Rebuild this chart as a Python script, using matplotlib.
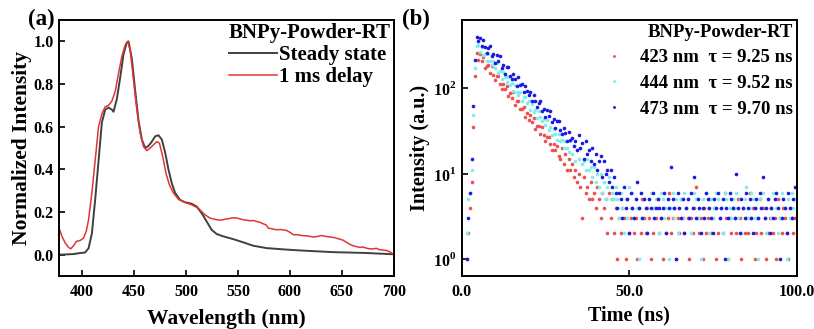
import matplotlib
matplotlib.use("Agg")
import matplotlib.pyplot as plt
import numpy as np
from matplotlib.ticker import FixedLocator, FuncFormatter, NullLocator

plt.rcParams['font.family'] = ['Liberation Serif', 'DejaVu Serif']
plt.rcParams['font.weight'] = 'bold'
plt.rcParams['axes.labelweight'] = 'bold'
plt.rcParams['mathtext.fontset'] = 'custom'
plt.rcParams['mathtext.rm'] = 'Liberation Serif:bold'
plt.rcParams['mathtext.bf'] = 'Liberation Serif:bold'

# (a) steady state spectrum
wl_ss = [378.6, 392, 398.4, 403, 406.4, 409.6, 412.8, 416, 419.2, 422.4, 425.6, 428.8,
         430.4, 433.6, 436.8, 440, 443.2, 444.8, 448, 451.2, 454.4, 457.6, 460.8, 464,
         467.2, 470.4, 473.6, 476.8, 480, 483.2, 486.4, 489.6, 494.3, 499, 505.5, 510.3,
         515.1, 519.9, 524.7, 529.5, 535.9, 545.5, 555.1, 564.7, 577.5, 593.5, 609.5,
         641.5, 673.4, 700]
int_ss = [0.0, 0.003, 0.008, 0.01, 0.03, 0.10, 0.26, 0.44, 0.62, 0.68, 0.69, 0.68,
          0.67, 0.73, 0.83, 0.94, 0.995, 1.0, 0.92, 0.77, 0.63, 0.54, 0.50, 0.51,
          0.53, 0.555, 0.56, 0.54, 0.48, 0.40, 0.335, 0.29, 0.257, 0.246, 0.239, 0.226,
          0.195, 0.156, 0.117, 0.097, 0.086, 0.073, 0.058, 0.042, 0.031, 0.025, 0.02,
          0.012, 0.008, 0.002]

# (a) 1 ms delay spectrum
wl_dl = [378.6, 380.8, 384, 387.2, 389.4, 392, 394.6, 398.4, 401.6, 404.2, 406.4, 409.6,
         412.8, 416, 419.2, 422.4, 425.6, 428.8, 432, 435.2, 438.4, 441.6, 444.1, 446.4,
         449.6, 452.8, 456, 459.2, 462.4, 465.6, 468.8, 472, 474.5, 477.7, 480.9, 484.1,
         487.9, 492.7, 499, 505.5, 511.9, 518.3, 523.1, 526, 529.5, 532, 535.9, 539,
         542.3, 545, 548.7, 552, 555.1, 558, 561.5, 565, 567.9, 571, 574.3, 577, 579.1,
         583, 587.1, 591, 596.7, 600, 603.1, 608, 612.7, 617, 622.3, 626, 630.3, 634,
         638.3, 643, 647.9, 651, 654.3, 657, 660.6, 664, 667, 670, 673.4, 676, 679.8,
         683, 686.2, 689, 692.6, 696, 700]
int_dl = [0.117, 0.086, 0.055, 0.034, 0.028, 0.042, 0.062, 0.067, 0.078, 0.11, 0.164, 0.29,
          0.445, 0.60, 0.66, 0.694, 0.70, 0.72, 0.765, 0.85, 0.93, 0.983, 1.0, 0.96,
          0.82, 0.68, 0.57, 0.507, 0.488, 0.50, 0.515, 0.53, 0.523, 0.46, 0.38, 0.328,
          0.29, 0.26, 0.245, 0.234, 0.218, 0.187, 0.172, 0.168, 0.164, 0.162, 0.164, 0.168,
          0.17, 0.173, 0.172, 0.168, 0.164, 0.162, 0.159, 0.16, 0.156, 0.152, 0.145, 0.14,
          0.125, 0.121, 0.117, 0.118, 0.114, 0.105, 0.094, 0.093, 0.089, 0.088, 0.083, 0.085,
          0.09, 0.086, 0.083, 0.08, 0.073, 0.068, 0.058, 0.05, 0.042, 0.038, 0.034, 0.036,
          0.031, 0.028, 0.027, 0.03, 0.023, 0.022, 0.02, 0.014, 0.0]

# (b) TCSPC decays, one value per 0.5 ns channel (0 .. 99.5 ns)
t_ns = np.arange(200) * 0.5

cnt_423 = [0, 0, 0, 1, 2, 4, 8, 35, 140,
           260, 217, 249, 206, 232, 171, 184, 186, 150, 180,
           142, 125, 138, 140, 111, 98, 113, 99, 107, 82,
           88, 76, 90, 63, 70, 71, 57, 57, 61, 46,
           51, 42, 49, 40, 45, 33, 36, 36, 29, 35,
           28, 24, 27, 27, 22, 19, 22, 19, 21, 16,
           15, 20, 13, 17, 11, 15, 11, 13, 9, 11,
           8, 10, 7, 3, 9, 6, 7, 5, 8, 5,
           6, 4, 7, 5, 3, 6, 4, 5, 2, 6,
           3, 5, 2, 4,
           1, 3, 2, 4, 3, 1, 5, 2, 3, 4,
           2, 3, 1, 4, 2, 5, 3, 2, 4, 3,
           1, 2, 4, 3, 5, 2, 3, 1, 4, 2,
           3, 6, 2, 3, 4, 1, 3, 2, 5, 3,
           2, 4, 3, 1, 3, 2, 4, 7, 3, 2,
           3, 1, 4, 2, 3, 5, 2, 3, 4, 1,
           2, 3, 4, 2, 6, 3, 1, 3, 2, 4,
           3, 2, 5, 3, 1, 4, 2, 3, 2, 6,
           3, 4, 1, 2, 3, 5, 2, 4, 3, 1,
           2, 3, 4, 2, 3, 1, 5, 3, 2, 4,
           3, 2, 1, 4, 3, 2, 3]

cnt_444 = [0, 0, 0, 2, 5, 6, 11, 48, 175,
           310, 322, 263, 301, 248, 255, 207, 251, 210, 188,
           207, 175, 197, 149, 160, 130, 154, 134, 118, 137,
           109, 116, 93, 110, 91, 83, 91, 70, 80, 80,
           67, 70, 56, 65, 53, 56, 45, 54, 46, 41,
           44, 37, 42, 32, 35, 28, 33, 29, 25, 29,
           24, 25, 20, 24, 20, 18, 24, 17, 21, 14,
           19, 15, 20, 13, 14, 11, 15, 11, 12, 9,
           12, 8, 10, 7, 10, 6, 8, 5, 7, 9,
           5, 6, 5, 7,
           5, 3, 6, 4, 2, 5, 3, 7, 4, 6,
           3, 5, 4, 1, 6, 3, 5, 4, 2, 5,
           6, 4, 3, 5, 4, 2, 6, 5, 3, 4,
           5, 1, 4, 6, 3, 5, 2, 4, 5, 3,
           6, 4, 5, 3, 2, 4, 6, 5, 3, 4,
           1, 5, 3, 6, 4, 2, 5, 3, 4, 6,
           5, 3, 4, 2, 6, 5, 1, 4, 3, 5,
           4, 6, 3, 5, 2, 4, 5, 7, 3, 4,
           6, 5, 3, 4, 1, 5, 4, 6, 3, 2,
           5, 4, 3, 6, 5, 4, 2, 3, 6, 5,
           4, 1, 5, 3, 6, 4, 5]

cnt_473 = [0, 0, 0, 1, 3, 6, 15, 62, 215,
           400, 362, 392, 311, 368, 304, 262, 298, 310, 236,
           250, 200, 244, 207, 237, 175, 189, 148, 177, 177,
           141, 127, 148, 130, 107, 136, 108, 112, 91, 107,
           92, 83, 90, 71, 84, 70, 60, 68, 71, 54,
           57, 46, 56, 47, 54, 40, 44, 34, 41, 41,
           32, 29, 34, 30, 24, 31, 25, 26, 21, 24,
           19, 28, 20, 23, 15, 24, 17, 19, 14, 20,
           13, 17, 11, 14, 16, 9, 14, 10, 11, 8,
           11, 7, 9, 6,
           4, 6, 5, 3, 7, 4, 5, 2, 6, 4,
           3, 5, 8, 4, 6, 3, 5, 4, 2, 5,
           4, 6, 3, 4, 5, 4, 3, 4, 6, 2,
           5, 4, 12, 5, 4, 1, 6, 4, 3, 5,
           2, 4, 5, 3, 6, 4, 9, 3, 5, 4,
           2, 4, 3, 6, 5, 4, 3, 2, 5, 4,
           6, 3, 4, 5, 1, 4, 3, 6, 5, 4,
           3, 10, 4, 2, 5, 4, 3, 6, 4, 5,
           3, 2, 4, 5, 3, 6, 4, 9, 3, 4,
           5, 2, 4, 3, 5, 6, 4, 1, 3, 5,
           4, 2, 6, 4, 3, 5, 7]

decay_labels = ['423 nm  \u03c4 = 9.25 ns', '444 nm  \u03c4 = 9.52 ns', '473 nm  \u03c4 = 9.70 ns']
decay_colors = ['#EE5050', '#80EEEE', '#1A1AE0']

fig = plt.figure(figsize=(8.14, 3.29), dpi=100)
ax1 = fig.add_axes([0.0725, 0.161, 0.4115, 0.778])
ax2 = fig.add_axes([0.567, 0.161, 0.4116, 0.778])

for ax in (ax1, ax2):
    for s in ax.spines.values():
        s.set_linewidth(1.4)
    ax.tick_params(direction='in', length=4, width=1.2, labelsize=11.5, pad=4)
ax1.tick_params(axis='x', pad=6)
ax2.tick_params(axis='x', pad=6)

# panel (a)
ax1.plot(wl_ss, int_ss, color='#404040', lw=1.4, label='Steady state')
ax1.plot(wl_dl, int_dl, color='#E03535', lw=1.1, label='1 ms delay')
ax1.set_xlim(378, 700)
ax1.set_ylim(-0.1, 1.1)
ax1.set_xticks([400, 450, 500, 550, 600, 650, 700])
ax1.set_yticks([0.0, 0.2, 0.4, 0.6, 0.8, 1.0])
ax1.yaxis.set_major_formatter(FuncFormatter(lambda v, p: '%.1f' % v))
ax1.set_xlabel('Wavelength (nm)', fontsize=15.5, labelpad=6)
ax1.set_ylabel('Normalized Intensity', fontsize=15.5, labelpad=1)
ax1.legend(title='BNPy-Powder-RT', loc='upper right', frameon=False, fontsize=15,
           title_fontproperties={'weight': 'bold', 'size': 15}, alignment='left',
           handlelength=2.3, handletextpad=0.1, borderaxespad=0.0, borderpad=0.15,
           labelspacing=0.1)

# panel (b)
for y, c, lab in zip([cnt_423, cnt_444, cnt_473], decay_colors, decay_labels):
    y = np.array(y, dtype=float)
    m = y > 0
    ax2.plot(t_ns[m], y[m], 'o', ms=2.6, mec='none', color=c, label=lab)
ax2.set_yscale('log')
ax2.set_xlim(0, 100)
ax2.set_ylim(0.63, 630)
ax2.set_xticks([0, 50, 100])
ax2.xaxis.set_major_formatter(FuncFormatter(lambda v, p: '%.1f' % v))
ax2.yaxis.set_major_locator(FixedLocator([1, 10, 100]))
ax2.yaxis.set_minor_locator(NullLocator())
ax2.yaxis.set_major_formatter(FuncFormatter(lambda v, p: r'$10^{%d}$' % round(np.log10(v))))
ax2.set_xlabel('Time (ns)', fontsize=14.5, labelpad=4)
ax2.set_ylabel('Intensity (a.u.)', fontsize=14.5, labelpad=2)
ax2.legend(title='BNPy-Powder-RT', loc='upper right', frameon=False, fontsize=13.5,
           title_fontproperties={'weight': 'bold', 'size': 13.5}, alignment='right',
           markerscale=0.8, handlelength=1.6, handletextpad=0.6, borderaxespad=0.0,
           borderpad=0.2, labelspacing=0.45)

fig.text(0.035, 0.925, '(a)', fontsize=16.5, fontweight='bold')
fig.text(0.494, 0.925, '(b)', fontsize=16.5, fontweight='bold')

fig.savefig('out.png', dpi=100)
